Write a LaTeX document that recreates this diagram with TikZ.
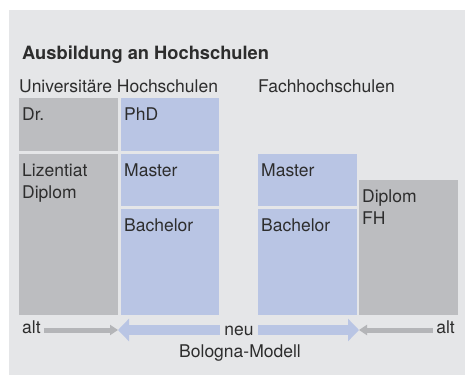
\documentclass[tikz,border=0pt]{standalone}
\usepackage{fontspec}
\setmainfont{TeX Gyre Heros}
\usepackage{tikz}
\usetikzlibrary{calc, arrows.meta, positioning}
\tikzstyle{every node}=[font=\fontsize{17.5}{21.5}\selectfont, text=schrift, inner sep=0pt]
\tikzstyle{feld}=[anchor=north west, inner sep=0pt, outer sep=0pt]
\tikzstyle{feldtext}=[anchor=north west, align=left]
\tikzstyle{grauerpfeil}=[draw=pfeilgrau, line width=5pt, -{Triangle[length=8pt, width=10pt]}]
\tikzstyle{blauerpfeil}=[draw=blau, line width=10pt, -{Triangle[length=11pt, width=22pt]}]

\begin{document}
\begin{tikzpicture}[x=1pt, y=-1pt]
	%\draw[opacity=0.1] (0,0) grid[step=20] (465,376);
	\definecolor{hgrund}{RGB}{229,230,232}
	\definecolor{grau}{RGB}{188,189,192}
	\definecolor{pfeilgrau}{RGB}{180,181,184}
	\definecolor{blau}{RGB}{185,197,228}
	\definecolor{schrift}{RGB}{45,45,45}
	
	\useasboundingbox (0,0) rectangle (465,376);
	\fill[hgrund] (9,10) rectangle (465,375);
	
	% titel
	\node[anchor=base west, font=\bfseries\fontsize{18.3}{22}\selectfont] (titel) at (22,59) {Ausbildung an Hochschulen};
	\node[anchor=base west] (uni) at (19,92) {Universitäre Hochschulen};
	\node[anchor=base west] (fh) at (258,92) {Fachhochschulen};
	
%%%%     UNIVERSITAETEN     %%%%

	\node[feld, fill=grau, minimum width=99pt, minimum height=53pt] (dr) at (19,98) {};
	\node[feld, fill=blau, minimum width=98pt, minimum height=53pt] (phd) at (121,98) {};
	\node[feld, fill=grau, minimum width=99pt, minimum height=161pt] (liz) at (19,154) {};
	\node[feld, fill=blau, minimum width=98pt, minimum height=52pt] (unimaster) at (121,154) {};
	\node[feld, fill=blau, minimum width=98pt, minimum height=106pt] (unibachelor) at (121,209) {};
	
	\node[feldtext] (drtext) at ($(dr.north west)+(3,10)$) {Dr.};
	\node[feldtext] (phdtext) at ($(phd.north west)+(3,10)$) {PhD};
	\node[feldtext] (liztext) at ($(liz.north west)+(3,10)$) {Lizentiat\\Diplom};
	\node[feldtext] (unimastertext) at ($(unimaster.north west)+(3,10)$) {Master};
	\node[feldtext] (unibachelortext) at ($(unibachelor.north west)+(3,10)$) {Bachelor};
	
%%%%     FACHHOCHSCHULEN     %%%%

	\node[feld, fill=blau, minimum width=99pt, minimum height=52pt] (fhmaster) at (258,154) {};
	\node[feld, fill=blau, minimum width=99pt, minimum height=106pt] (fhbachelor) at (258,209) {};
	\node[feld, fill=grau, minimum width=99pt, minimum height=135pt] (fhdiplom) at (359,180) {};
	
	\node[feldtext] (fhmastertext) at ($(fhmaster.north west)+(3,10)$) {Master};
	\node[feldtext] (fhbachelortext) at ($(fhbachelor.north west)+(3,10)$) {Bachelor};
	\node[feldtext] (fhdiplomtext) at ($(fhdiplom.north west)+(3,10)$) {Diplom\\FH};
	
%%%%     ALT / NEU     %%%%

	\coordinate (spitzeL) at (118,330);
	\coordinate (spitzeR) at (359,330);
	
	\node[anchor=base west] (altL) at (22,333) {alt};
	\node[anchor=base east] (altR) at (455,333) {alt};
	\node[anchor=base, inner xsep=4.5pt] (neu) at (239,335) {neu};
	\node[anchor=base] (bologna) at (240,357) {Bologna-Modell};
	
	% pfeile
	\draw[grauerpfeil, shorten <=3pt] (altL.east |- spitzeL) -- (spitzeL);
	\draw[grauerpfeil, shorten <=3pt] (altR.west |- spitzeR) -- (spitzeR);
	\draw[blauerpfeil] (neu.west |- spitzeL) -- (spitzeL);
	\draw[blauerpfeil] (neu.east |- spitzeR) -- (spitzeR);
	
\end{tikzpicture}
\end{document}
